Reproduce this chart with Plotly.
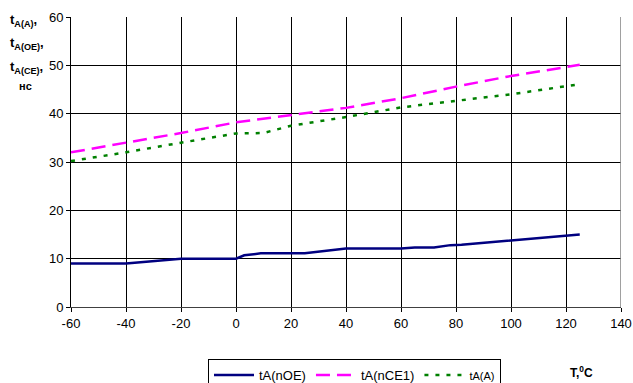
import plotly.graph_objects as go

temp_noe = [-60, -40, -20, 0, 3, 9, 25, 40, 60, 65, 72, 78, 82, 100, 125]
t_noe = [9, 9, 10, 10, 10.7, 11.1, 11.1, 12.1, 12.1, 12.3, 12.3, 12.8, 12.9, 13.8, 15]

temp_nce = [-60, -40, -20, 0, 20, 40, 60, 80, 100, 125]
t_nce = [32, 34, 36, 38.2, 39.7, 41.2, 43.2, 45.6, 47.8, 50.1]

temp_a = [-60, -40, -20, 0, 10, 20, 40, 60, 85, 100, 125]
t_a = [30.2, 32, 34, 35.9, 36, 37.5, 39.3, 41.3, 43, 44, 46.1]

x_ticks = list(range(-60, 141, 20))
x_tick_labels = [str(v).replace("\u2212", "-") for v in x_ticks]
y_ticks = list(range(0, 61, 10))

fig = go.Figure()
fig.add_trace(go.Scatter(x=temp_noe, y=t_noe, mode="lines", name="tA(nOE)",
                         line=dict(color="#000080", width=2.5)))
fig.add_trace(go.Scatter(x=temp_nce, y=t_nce, mode="lines", name="tA(nCE1)",
                         line=dict(color="#FF00FF", width=2.5, dash="14px,7px")))
fig.add_trace(go.Scatter(x=temp_a, y=t_a, mode="lines",
                         name="<span style='font-size:11px'>tA(A)</span>",
                         line=dict(color="#008000", width=2.5, dash="4px,7px")))

fig.update_layout(
    width=633, height=383,
    margin=dict(l=71, r=12, t=17, b=76, autoexpand=False),
    paper_bgcolor="white", plot_bgcolor="white",
    font=dict(family="Liberation Sans, Arial, sans-serif", size=13, color="black"),
    showlegend=True,
    legend=dict(orientation="h", x=(208 - 71) / 550, y=(307 - 359) / 290,
                xanchor="left", yanchor="top",
                bordercolor="black", borderwidth=1, bgcolor="white",
                font=dict(size=13), itemwidth=40, tracegroupgap=0),
)
fig.update_xaxes(range=[-60, 140], tickvals=x_ticks, ticktext=x_tick_labels,
                 showgrid=True, gridcolor="black",
                 gridwidth=1, zeroline=False, showline=True, linecolor="#404040",
                 linewidth=1, ticks="outside", ticklen=4, tickcolor="black",
                 fixedrange=True, automargin=False)
fig.update_yaxes(range=[0, 60], tickvals=y_ticks, showgrid=True, gridcolor="black",
                 gridwidth=1, zeroline=False, showline=True, linecolor="black",
                 linewidth=1, ticks="outside", ticklen=4, tickcolor="black",
                 fixedrange=True, automargin=False)

# right border at x = 140
fig.add_shape(type="line", xref="x", yref="y", x0=140, x1=140, y0=0, y1=60,
              line=dict(color="#808080", width=1.5))

ylabels = ["t<sub>A(A)</sub>,", "t<sub>A(OE)</sub>,", "t<sub>A(CE)</sub>,", "нс"]
ypos = [20, 44, 67, 86]
for i, (txt, yp) in enumerate(zip(ylabels, ypos)):
    fig.add_annotation(text="<b>" + txt + "</b>", xref="paper", yref="paper",
                       x=(8 - 71) / 550 if i < 3 else (17 - 71) / 550,
                       y=(307 - yp) / 290, xanchor="left", yanchor="middle",
                       showarrow=False, font=dict(size=13 if i < 3 else 11))

fig.add_annotation(text="<b>T,<sup>0</sup>C</b>", xref="paper", yref="paper",
                   x=(568 - 71) / 550, y=(307 - 372) / 290, xanchor="left",
                   yanchor="middle", showarrow=False, font=dict(size=12))

fig.write_html("out.html")
